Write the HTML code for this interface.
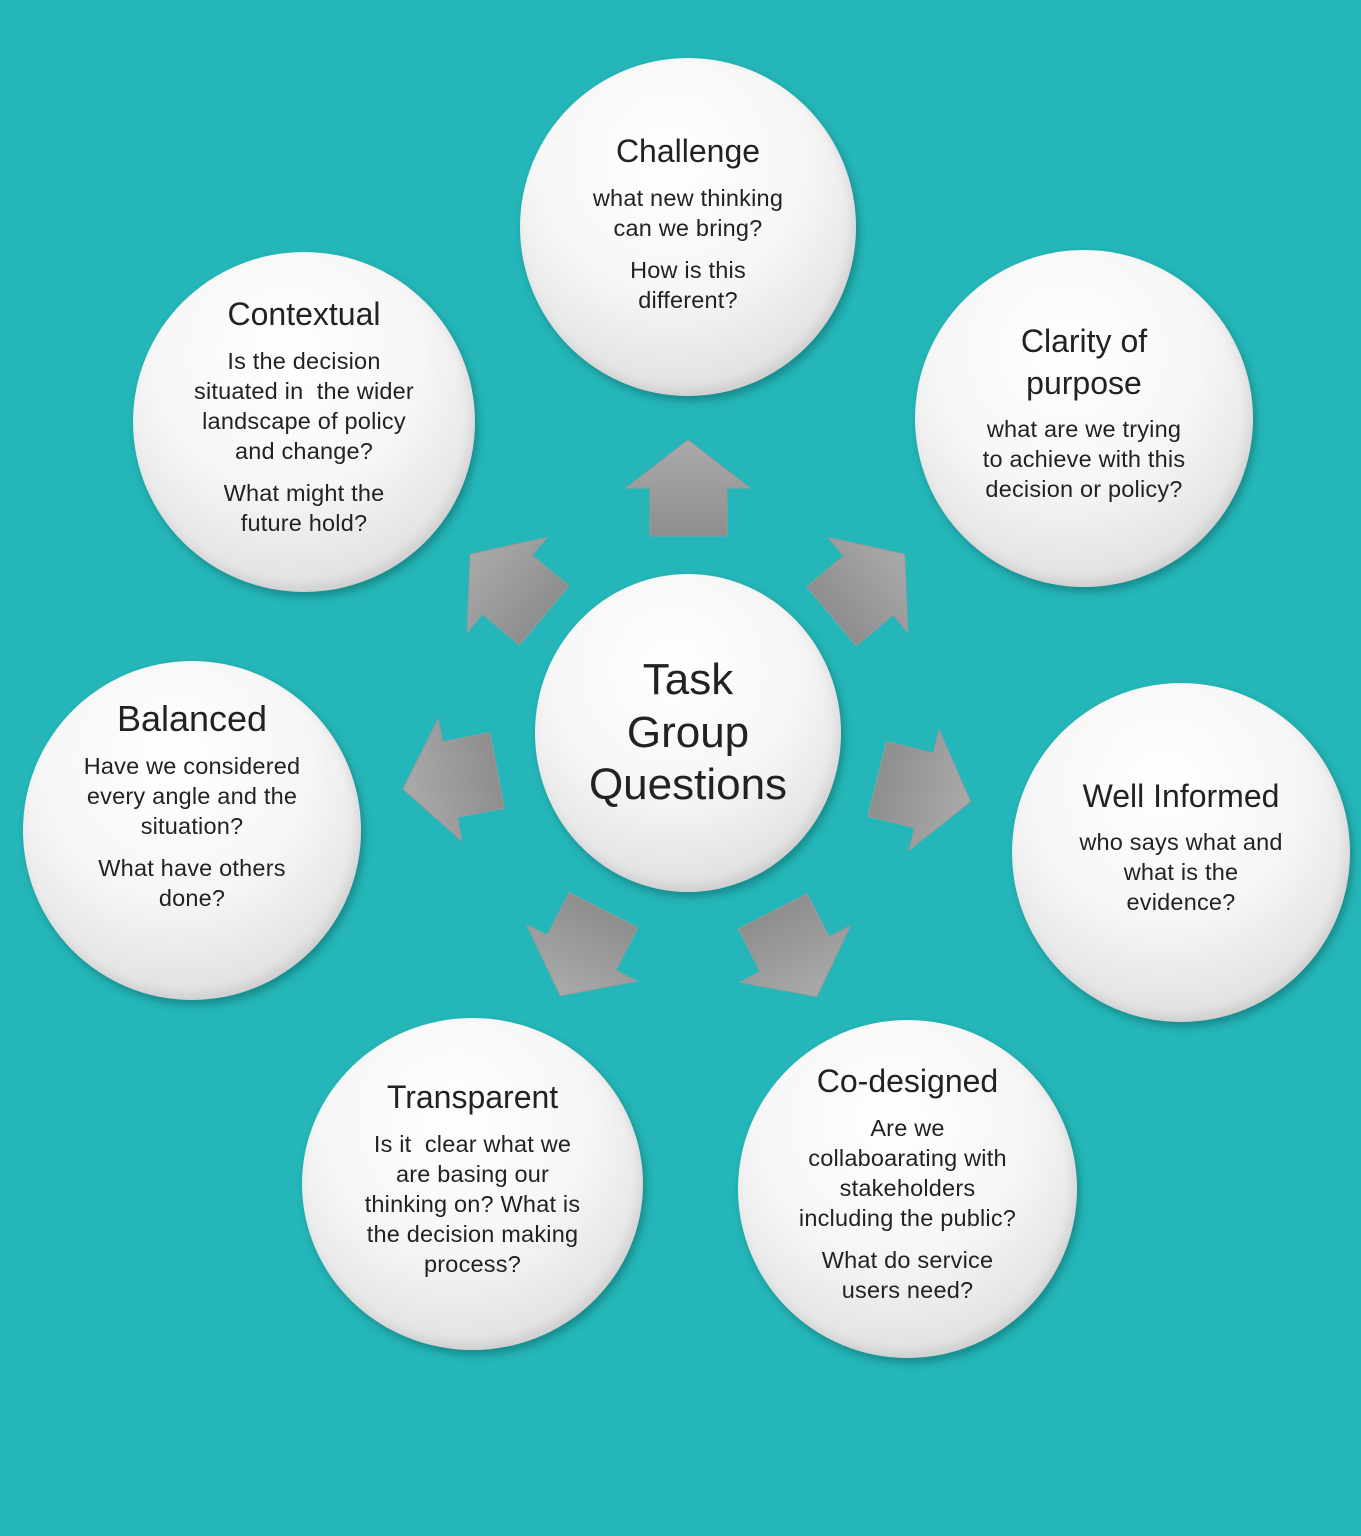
<!DOCTYPE html>
<html><head><meta charset="utf-8"><style>
html,body{margin:0;padding:0}
body{width:1361px;height:1536px;background:#24b6b8;position:relative;overflow:hidden;font-family:"Liberation Sans",sans-serif;}
.c{position:absolute;border-radius:50%;background:radial-gradient(circle at 45% 30%,#ffffff 0%,#f6f6f6 45%,#dcdcdc 85%,#cfcfcf 100%);box-shadow:3px 5px 8px rgba(0,60,60,0.35), inset -4px -6px 10px rgba(0,0,0,0.08);display:flex;flex-direction:column;align-items:center;justify-content:center;text-align:center;color:#222;box-sizing:border-box;}
.t{font-size:32px;line-height:1.3;margin-bottom:10px}
.b{font-size:23.5px;line-height:30px;letter-spacing:0.2px}
.b p{margin:0 0 12px 0}
svg{position:absolute;left:0;top:0}
</style></head><body>
<svg width="1361" height="1536">
<defs>
<linearGradient id="g" x1="0" y1="0" x2="0" y2="1"><stop offset="0" stop-color="#aaaaaa"/><stop offset="1" stop-color="#8e8e8e"/></linearGradient>
<g id="a"><polygon points="0,-48 62,0 39,0 39,48 -38,48 -38,0 -62,0" fill="url(#g)" stroke="#9a9a9a" stroke-width="1"/></g>
</defs>
<use href="#a" transform="translate(688,488)"/>
<use href="#a" transform="translate(507,585) rotate(-50)"/>
<use href="#a" transform="translate(868,585) rotate(50)"/>
<use href="#a" transform="translate(450,780) rotate(-101)"/>
<use href="#a" transform="translate(924,790) rotate(104)"/>
<use href="#a" transform="translate(582,953) rotate(-153)"/>
<use href="#a" transform="translate(795,954) rotate(153)"/>
</svg>

<div class="c" style="left:520px;top:58px;width:336px;height:338px;padding-top:4px">
<div class="t">Challenge</div><div class="b"><p>what new thinking<br>can we bring?</p><p>How is this<br>different?</p></div></div>

<div class="c" style="left:133px;top:252px;width:342px;height:340px">
<div class="t">Contextual</div><div class="b"><p>Is the decision<br>situated in &nbsp;the wider<br>landscape of policy<br>and change?</p><p>What might the<br>future hold?</p></div></div>

<div class="c" style="left:915px;top:250px;width:338px;height:337px">
<div class="t">Clarity of<br>purpose</div><div class="b"><p>what are we trying<br>to achieve with this<br>decision or policy?</p></div></div>

<div class="c" style="left:535px;top:574px;width:306px;height:318px">
<div style="font-size:44px;line-height:1.2">Task<br>Group<br>Questions</div></div>

<div class="c" style="left:23px;top:661px;width:338px;height:339px;padding-bottom:40px">
<div class="t" style="font-size:36px;margin-bottom:8px">Balanced</div><div class="b"><p>Have we considered<br>every angle and the<br>situation?</p><p>What have others<br>done?</p></div></div>

<div class="c" style="left:1012px;top:683px;width:338px;height:339px">
<div class="t">Well Informed</div><div class="b"><p>who says what and<br>what is the<br>evidence?</p></div></div>

<div class="c" style="left:302px;top:1018px;width:341px;height:332px">
<div class="t">Transparent</div><div class="b"><p>Is it &nbsp;clear what we<br>are basing our<br>thinking on? What is<br>the decision making<br>process?</p></div></div>

<div class="c" style="left:738px;top:1020px;width:339px;height:338px">
<div class="t">Co-designed</div><div class="b"><p>Are we<br>collaboarating with<br>stakeholders<br>including the public?</p><p>What do service<br>users need?</p></div></div>
</body></html>
